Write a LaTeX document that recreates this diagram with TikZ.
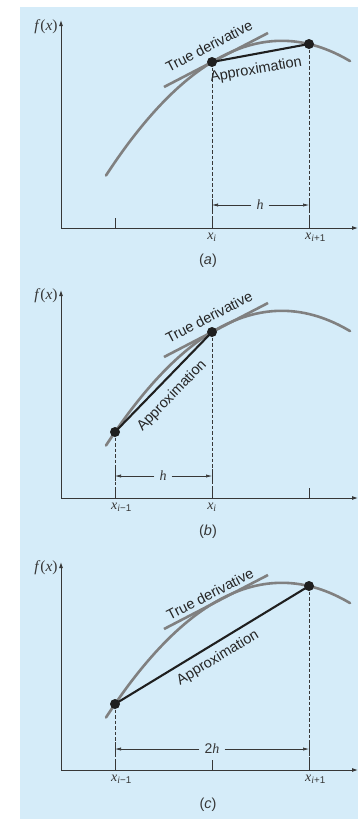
\documentclass[tikz,border=0pt]{standalone}
\usepackage{fontspec}
\setmainfont{Liberation Serif}
\setsansfont{Liberation Sans}
\usetikzlibrary{arrows.meta}
\definecolor{bgblue}{RGB}{213,236,249}
\definecolor{curvegray}{RGB}{128,128,128}
\definecolor{axisgray}{RGB}{55,55,55}
\tikzset{
  curveline/.style={curvegray, line width=2.6pt, line cap=round},
  tangline/.style={curvegray, line width=2.6pt},
  secline/.style={black!88, line width=2.1pt},
  dotnode/.style={circle, fill=black!88, inner sep=0pt, minimum size=10pt},
  axisline/.style={axisgray, line width=0.9pt},
  axisarrow/.style={axisline, -{Latex[length=6pt,width=4pt]}},
  dropline/.style={axisgray, line width=0.6pt, dash pattern=on 3.5pt off 2pt},
  tickline/.style={axisgray, line width=0.9pt},
  dimline/.style={axisgray, line width=0.6pt, -{Latex[length=6pt,width=3.2pt]}},
  wordlbl/.style={font=\fontsize{14.5}{17}\selectfont\sffamily, text=black!85, inner sep=0pt},
  mathlbl/.style={font=\fontsize{14}{16}\selectfont, text=axisgray, inner sep=0pt},
  fxlbl/.style={font=\fontsize{15.5}{17}\selectfont, text=axisgray, inner sep=0pt},
  dimlbl/.style={font=\fontsize{14}{16}\selectfont, text=axisgray, inner xsep=5pt, inner ysep=0pt},
  caplbl/.style={font=\fontsize{14.5}{16}\selectfont\sffamily, text=axisgray, inner sep=0pt},
}
\newcommand{\xsub}[1]{\textit{x}\textsubscript{#1}}
\newcommand{\fcurve}{plot[domain=106:350, samples=60] (\x, {40.8+(0.06601*(\x-281.8))^2})}
\begin{document}
\begin{tikzpicture}[x=1pt,y=-1pt]
\useasboundingbox (0,0) rectangle (358,819);
\fill[bgblue] (20,7) rectangle (358,819);
\clip (0,0) rectangle (358,819);

% ---------------- panel (a) ----------------
\begin{scope}[shift={(0,0)}]
\coordinate (aO) at (61,228);
\coordinate (aYt) at (61,20);
\coordinate (aXr) at (358,228);
\draw[axisarrow] (aO) -- (aYt);
\draw[axisarrow] (aO) -- (aXr);
\node[fxlbl] (afx) at (46,27) {\textit{f\/}(\textit{x})};
\node[mathlbl] (ax) at (362,240) {\textit{x}};
\draw[curveline] \fcurve;
\draw[tangline] (164,87) -- (268,33);
\coordinate (aP) at (212,62);
\coordinate (aQ) at (309,44);
\draw[dropline] (aP) -- (aP |- aO);
\draw[dropline] (aQ) -- (aQ |- aO);
\draw[secline] (aP) -- (aQ);
\node[dotnode] (apd) at (aP) {};
\node[dotnode] (aqd) at (aQ) {};
\draw[tickline] (115,218) -- (115,228);
\draw[tickline] (212,218) -- (212,228);
\draw[tickline] (309,218) -- (309,228);
\draw[tickline] (212,199) -- (212,211);
\draw[tickline] (309,199) -- (309,211);
\node[dimlbl] (ah) at (260,205) {\textit{h}};
\coordinate (ahl) at (212,205);
\coordinate (ahr) at (309,205);
\draw[dimline] (ah.west) -- (ahl);
\draw[dimline] (ah.east) -- (ahr);
\node[wordlbl, rotate=27.5] (atd) at (209,46) {True derivative};
\node[wordlbl, rotate=10] (aap) at (256,70) {Approximation};
\node[mathlbl, anchor=north] (axi) at (212,233) {\xsub{\textit{i}}};
\node[mathlbl, anchor=north west] (axip) at (305,233) {\xsub{\textit{i}\sffamily +1}};
\node[caplbl] (acap) at (208,261) {(\textit{a})};
\end{scope}

% ---------------- panel (b) ----------------
\begin{scope}[shift={(0,270)}]
\coordinate (bO) at (61,228);
\coordinate (bYt) at (61,20);
\coordinate (bXr) at (358,228);
\draw[axisarrow] (bO) -- (bYt);
\draw[axisarrow] (bO) -- (bXr);
\node[fxlbl] (bfx) at (46,26) {\textit{f\/}(\textit{x})};
\node[mathlbl] (bx) at (362,240) {\textit{x}};
\draw[curveline] \fcurve;
\draw[tangline] (164,87) -- (268,33);
\coordinate (bP) at (115,162);
\coordinate (bQ) at (212,62);
\draw[dropline] (bP) -- (bP |- bO);
\draw[dropline] (bQ) -- (bQ |- bO);
\draw[secline] (bP) -- (bQ);
\node[dotnode] (bpd) at (bP) {};
\node[dotnode] (bqd) at (bQ) {};
\draw[tickline] (115,218) -- (115,228);
\draw[tickline] (212,218) -- (212,228);
\draw[tickline] (309,218) -- (309,228);
\draw[tickline] (115,199) -- (115,211);
\draw[tickline] (212,199) -- (212,211);
\node[dimlbl] (bh) at (163,206) {\textit{h}};
\coordinate (bhl) at (115,206);
\coordinate (bhr) at (212,206);
\draw[dimline] (bh.west) -- (bhl);
\draw[dimline] (bh.east) -- (bhr);
\node[wordlbl, rotate=27.5] (btd) at (209,47) {True derivative};
\node[wordlbl, rotate=46] (bap) at (172,126) {Approximation};
\node[mathlbl, anchor=north west] (bxim) at (111,233) {\xsub{\textit{i}\sffamily −1}};
\node[mathlbl, anchor=north] (bxi) at (212,233) {\xsub{\textit{i}}};
\node[caplbl] (bcap) at (208,262) {(\textit{b})};
\end{scope}

% ---------------- panel (c) ----------------
\begin{scope}[shift={(0,542)}]
\coordinate (cO) at (61,228);
\coordinate (cYt) at (61,20);
\coordinate (cXr) at (358,228);
\draw[axisarrow] (cO) -- (cYt);
\draw[axisarrow] (cO) -- (cXr);
\node[fxlbl] (cfx) at (46,26) {\textit{f\/}(\textit{x})};
\node[mathlbl] (cx) at (362,240) {\textit{x}};
\draw[curveline] \fcurve;
\draw[tangline] (164,87) -- (268,33);
\coordinate (cP) at (115,162);
\coordinate (cQ) at (309,44);
\draw[dropline] (cP) -- (cP |- cO);
\draw[dropline] (cQ) -- (cQ |- cO);
\draw[secline] (cP) -- (cQ);
\node[dotnode] (cpd) at (cP) {};
\node[dotnode] (cqd) at (cQ) {};
\draw[tickline] (115,218) -- (115,228);
\draw[tickline] (212,218) -- (212,228);
\draw[tickline] (309,218) -- (309,228);
\draw[tickline] (115,200) -- (115,214);
\draw[tickline] (309,200) -- (309,214);
\node[dimlbl] (ch) at (212,207) {\sffamily 2\textit{\rmfamily h}};
\coordinate (chl) at (115,207);
\coordinate (chr) at (309,207);
\draw[dimline] (ch.west) -- (chl);
\draw[dimline] (ch.east) -- (chr);
\node[wordlbl, rotate=27] (ctd) at (210,52) {True derivative};
\node[wordlbl, rotate=31] (cap) at (218,116) {Approximation};
\node[mathlbl, anchor=north west] (cxim) at (111,233) {\xsub{\textit{i}\sffamily −1}};
\node[mathlbl, anchor=north west] (cxip) at (305,233) {\xsub{\textit{i}\sffamily +1}};
\node[caplbl] (ccap) at (208,263) {(\textit{c})};
\end{scope}
\end{tikzpicture}
\end{document}
